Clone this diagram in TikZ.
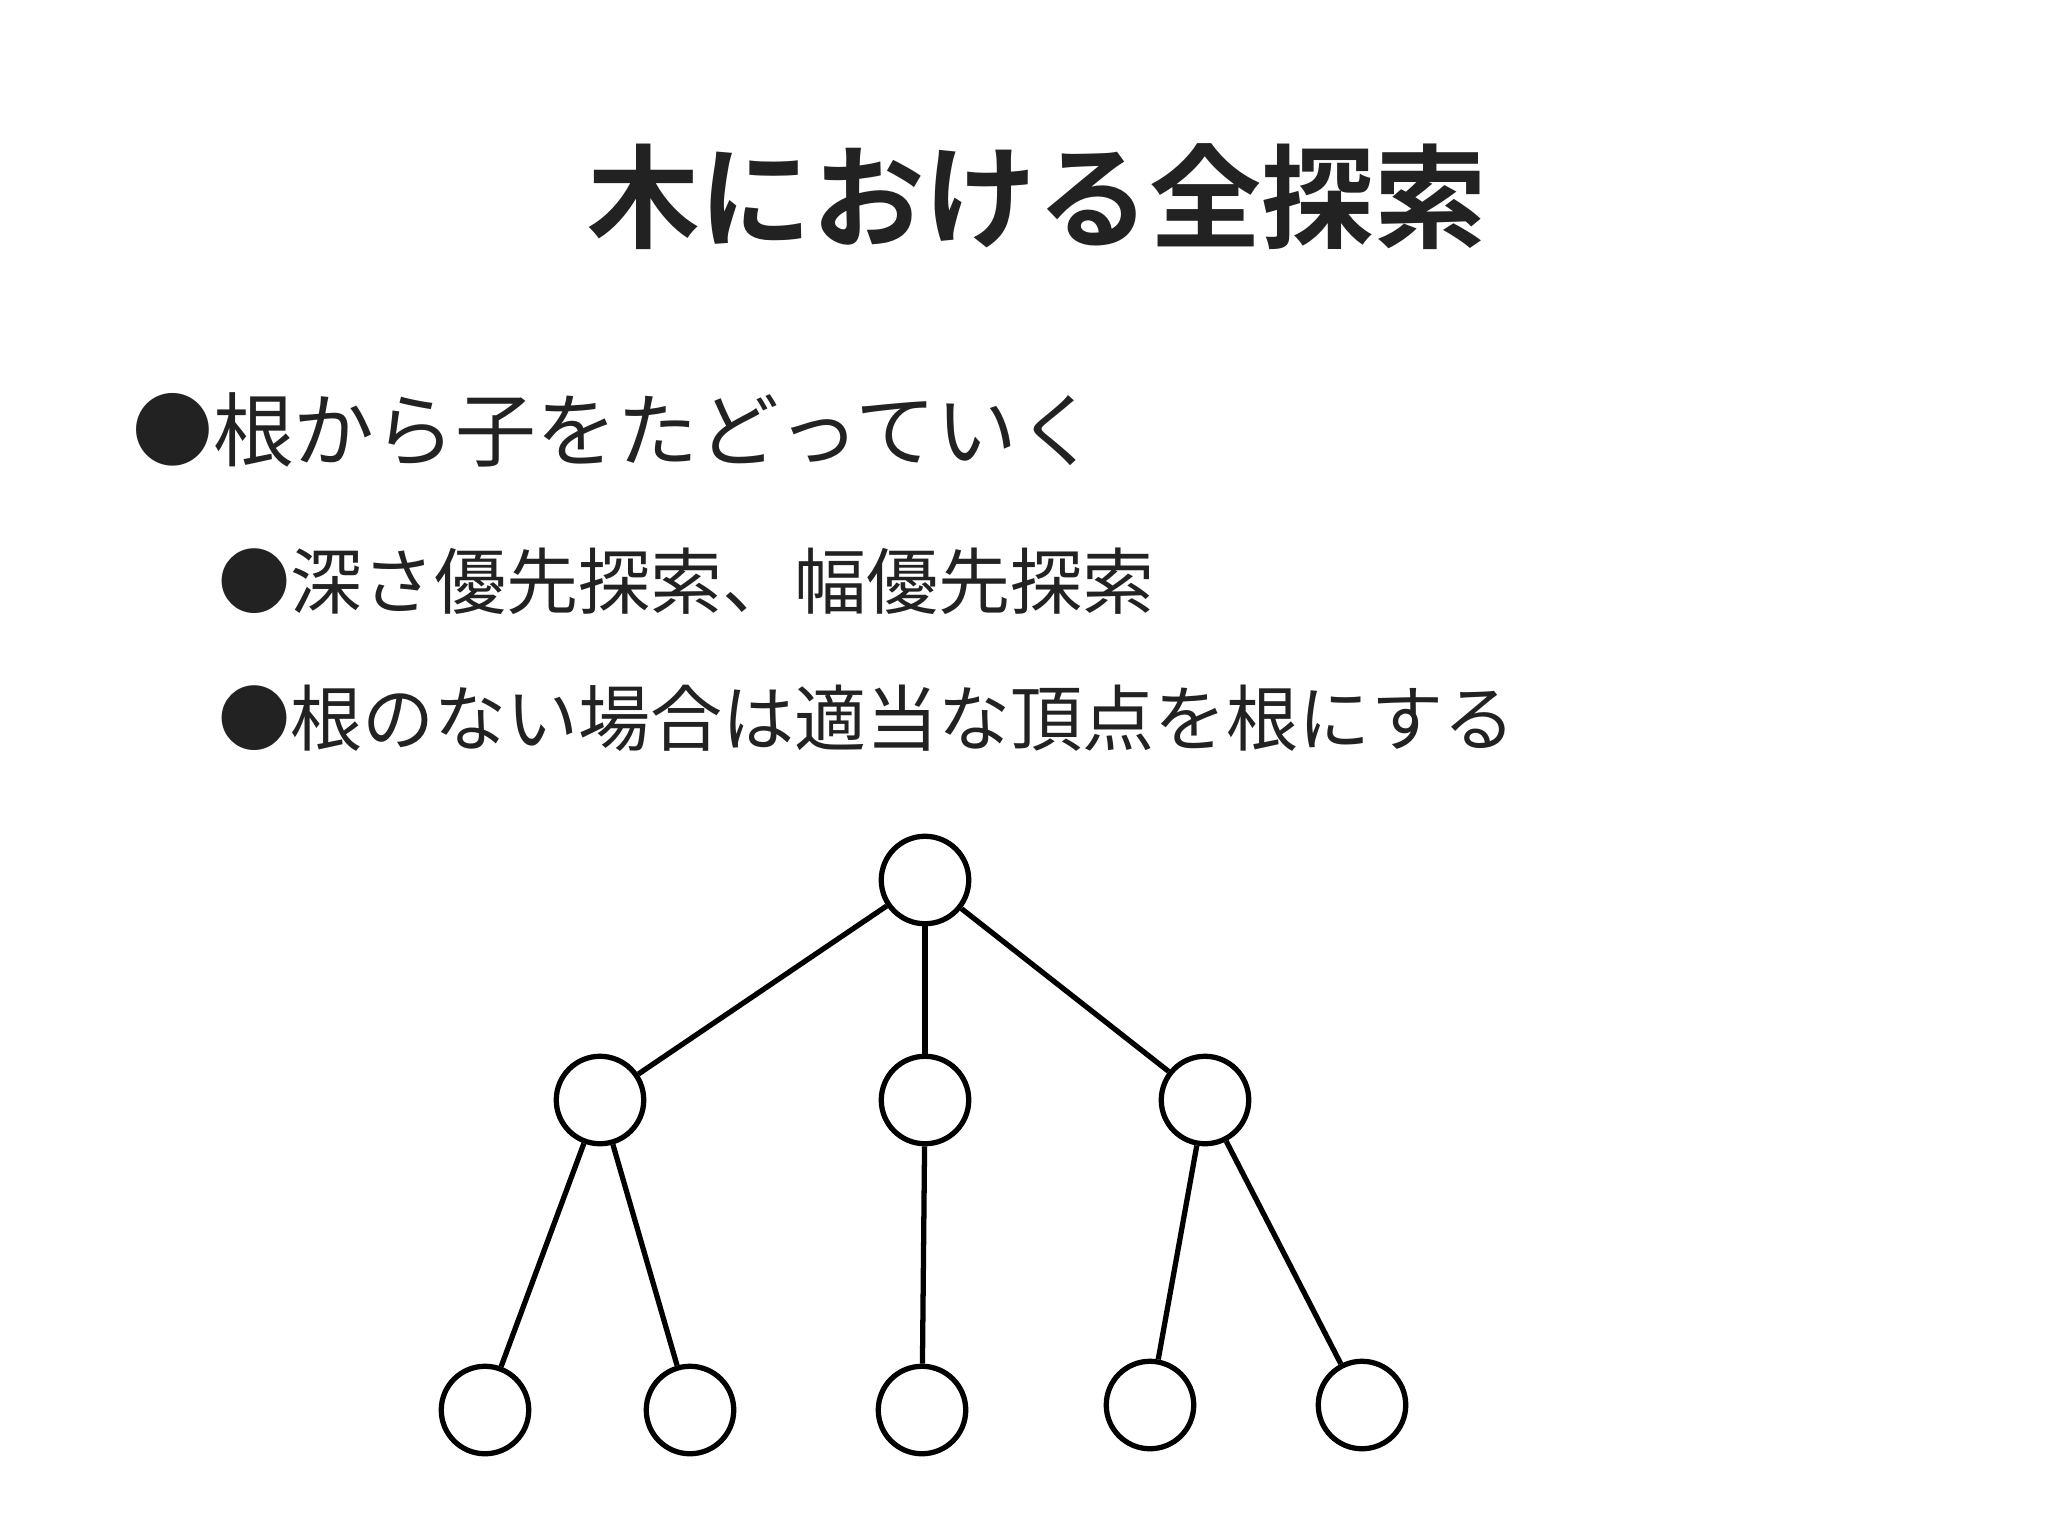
\documentclass[tikz,border=0pt]{standalone}
\usepackage{fontspec}
\setmainfont{Noto Sans CJK JP}
\newfontfamily\cjkbold{Noto Sans CJK JP Bold}
\definecolor{ink}{HTML}{222222}
\begin{document}
\begin{tikzpicture}[x=0.02cm,y=-0.02cm,
        every node/.style={text=ink},
        vtx/.style={draw=black,circle,line width=3pt,minimum size=1.75cm,inner sep=0pt},
        edge/.style={draw=black,line width=3pt}]
    \useasboundingbox (0,0) rectangle (2048,1535);
    % title and bullets
    \node (title) at (1037,197) {\cjkbold\fontsize{64}{72}\selectfont 木における全探索};
    \node[anchor=west,inner sep=0pt] (b1) at (132,430) {\fontsize{46}{52}\selectfont ●根から子をたどっていく};
    \node[anchor=west,inner sep=0pt] (b2) at (218,581) {\fontsize{41}{48}\selectfont ●深さ優先探索、幅優先探索};
    \node[anchor=west,inner sep=0pt] (b3) at (218,718) {\fontsize{41}{48}\selectfont ●根のない場合は適当な頂点を根にする};
    % tree
    \node[vtx] (r) at (925,880) {};
    \node[vtx] (a) at (600,1100) {};
    \node[vtx] (b) at (925,1100) {};
    \node[vtx] (c) at (1205,1100) {};
    \node[vtx] (a1) at (485,1410) {};
    \node[vtx] (a2) at (690,1410) {};
    \node[vtx] (b1) at (922,1410) {};
    \node[vtx] (c1) at (1150,1405) {};
    \node[vtx] (c2) at (1362,1405) {};
    \foreach \u/\v in {r/a,r/b,r/c,a/a1,a/a2,b/b1,c/c1,c/c2}
        \draw[edge] (\u) -- (\v);
\end{tikzpicture}
\end{document}
